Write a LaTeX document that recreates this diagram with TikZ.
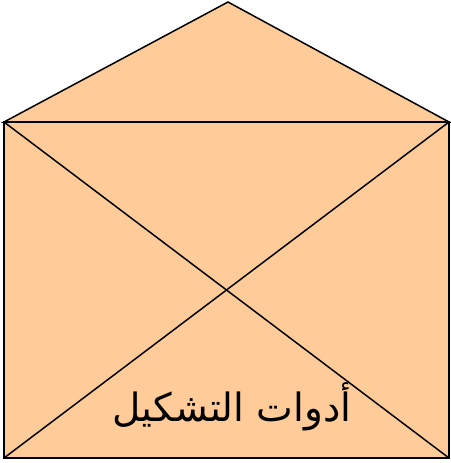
\documentclass[tikz,border=0pt]{standalone}
\usepackage{fontspec}
\usepackage{xcolor}
\usepackage{tikz}
\usetikzlibrary{positioning,calc}
\TeXXeTstate=1
\newfontfamily\arabicfont[Script=Arabic]{DejaVu Sans}
\definecolor{peach}{HTML}{FFCC99}

\begin{document}
\begin{tikzpicture}[x=1pt,y=-1pt,line width=1.5pt,every node/.style={font=\arabicfont\fontsize{39}{46}\selectfont,align=center},flap/.style={draw=black,fill=peach,line join=miter}]
\useasboundingbox (0,0) rectangle (450,463);
\coordinate (tl) at (4,122);
\coordinate (tr) at (449,122);
\coordinate (bl) at (4,458);
\coordinate (br) at (449,458);
\coordinate (apex) at (228,2);
\draw[flap] (tl) -- (apex) -- (tr) -- cycle;
\draw[flap] (tl) rectangle (br);
\draw (tl) -- (br);
\draw (tr) -- (bl);
\node (label) at (232,407) {\beginR أدوات التشكيل\endR};
\end{tikzpicture}
\end{document}
